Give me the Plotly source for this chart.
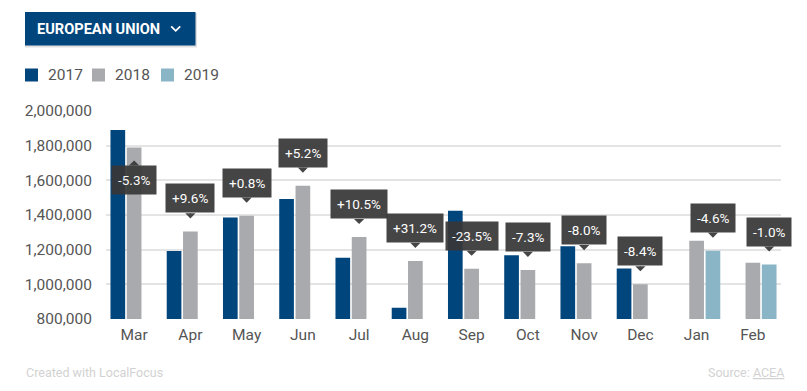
import plotly.graph_objects as go

# ---------------- data ----------------
months = ["Mar", "Apr", "May", "Jun", "Jul", "Aug", "Sep", "Oct", "Nov", "Dec", "Jan", "Feb"]
v2017 = [1890000, 1192000, 1386000, 1492000, 1153000, 865000, 1425000, 1168000, 1220000, 1092000, None, None]
v2018 = [1790000, 1305000, 1396000, 1569000, 1273000, 1135000, 1090000, 1083000, 1122000, 1000000, 1252000, 1125000]
v2019 = [None, None, None, None, None, None, None, None, None, None, 1194000, 1114000]
pct_labels = ["-5.3%", "+9.6%", "+0.8%", "+5.2%", "+10.5%", "+31.2%", "-23.5%", "-7.3%", "-8.0%", "-8.4%", "-4.6%", "-1.0%"]
series_names = ["2017", "2018", "2019"]
y_ticks = [800000, 1000000, 1200000, 1400000, 1600000, 1800000, 2000000]

# ---------------- style ----------------
W, H = 807, 391
ML, MR, MT, MB = 106, 26, 111, 72
PW, PH = W - ML - MR, H - MT - MB
colors = ["#00457c", "#a9aaae", "#8ab5c7"]
FONT = "Roboto, Arial, sans-serif"
BARGAP, GROUPGAP = 0.13, 0.1
YMIN, YMAX = 800000, 2000000


def px_x(px):
    return (px - ML) / PW


def px_y(py):
    return (H - MB - py) / PH


xs = list(range(len(months)))
fig = go.Figure()
for name, vals, col in zip(series_names, [v2017, v2018, v2019], colors):
    fig.add_trace(go.Bar(x=xs, y=vals, name=name, marker=dict(color=col, line=dict(width=0)),
                         showlegend=False, hoverinfo="skip"))

slot = (1 - BARGAP) / 3
annotations = []
shapes = []

# percentage tooltips on the latest-year bar of each month
box_px = 46  # arrow offset + box height in px
for i, lab in enumerate(pct_labels):
    if v2019[i] is not None:
        xv, yv = i + slot, v2019[i]
    else:
        xv, yv = i, v2018[i]
    flip = yv + box_px / PH * (YMAX - YMIN) > YMAX
    annotations.append(dict(
        x=xv, y=yv, xref="x", yref="y", text=lab, showarrow=True,
        arrowhead=1, arrowsize=1.7, arrowwidth=1, arrowcolor="#383838",
        standoff=13, ax=0, ay=18 if flip else -18,
        yanchor="top" if flip else "bottom", xanchor="center",
        bgcolor="#383838", borderpad=6, opacity=0.93,
        font=dict(family=FONT, size=13.5, color="white"),
    ))

# header button
shapes.append(dict(type="rect", xref="paper", yref="paper",
                   x0=px_x(25), x1=px_x(197), y0=px_y(47.5), y1=px_y(13),
                   fillcolor="rgba(0,0,0,0.12)", line=dict(width=0), layer="above"))
shapes.append(dict(type="rect", xref="paper", yref="paper",
                   x0=px_x(25), x1=px_x(195.5), y0=px_y(45.5), y1=px_y(12),
                   fillcolor="#00457c", line=dict(width=0), layer="above"))
shapes.append(dict(type="path", xref="paper", yref="paper",
                   path="M %f,%f L %f,%f L %f,%f" % (px_x(171.2), px_y(26.3), px_x(175.7), px_y(30.8),
                                                     px_x(180.2), px_y(26.3)),
                   line=dict(color="white", width=1.8), layer="above"))
annotations.append(dict(x=px_x(35), y=px_y(28.8), xref="paper", yref="paper", xanchor="left",
                        yanchor="middle", text="<b>EUROPEAN UNION</b>", showarrow=False,
                        font=dict(family=FONT, size=14.6, color="white")))

# legend
leg_sq_x = [25, 92, 161]
for name, col, sx in zip(series_names, colors, leg_sq_x):
    shapes.append(dict(type="rect", xref="paper", yref="paper",
                       x0=px_x(sx), x1=px_x(sx + 13), y0=px_y(81.5), y1=px_y(68.5),
                       fillcolor=col, line=dict(width=0), layer="above"))
    annotations.append(dict(x=px_x(sx + 21), y=px_y(75), xref="paper", yref="paper",
                            xanchor="left", yanchor="middle", text=name, showarrow=False,
                            font=dict(family=FONT, size=15.5, color="#555555")))

# footer
annotations.append(dict(x=px_x(24), y=px_y(372), xref="paper", yref="paper", xanchor="left",
                        yanchor="middle", text="Created with LocalFocus", showarrow=False,
                        font=dict(family=FONT, size=12.5, color="#d2d2d2")))
annotations.append(dict(x=px_x(786), y=px_y(372), xref="paper", yref="paper", xanchor="right",
                        yanchor="middle",
                        text='Source: <span style="text-decoration:underline">ACEA</span>',
                        showarrow=False, font=dict(family=FONT, size=12.5, color="#d2d2d2")))

fig.update_layout(
    width=W, height=H,
    margin=dict(l=ML, r=MR, t=MT, b=MB, pad=0),
    paper_bgcolor="white", plot_bgcolor="white",
    barmode="group", bargap=BARGAP, bargroupgap=GROUPGAP,
    font=dict(family=FONT, color="#555555"),
    annotations=annotations, shapes=shapes,
    xaxis=dict(tickmode="array", tickvals=xs, ticktext=months, range=[-0.5, len(months) - 0.5],
               showgrid=False, zeroline=False, showline=False, ticks="outside", ticklen=1,
               tickcolor="rgba(0,0,0,0)", tickfont=dict(family=FONT, size=15.5, color="#555555"),
               fixedrange=True),
    yaxis=dict(range=[YMIN, YMAX], tickmode="array", tickvals=y_ticks, tickformat=",",
               showgrid=True, gridcolor="#e4e4e4", gridwidth=1.5, zeroline=False, showline=False,
               ticks="outside", ticklen=10, tickcolor="rgba(0,0,0,0)",
               tickfont=dict(family=FONT, size=15.5, color="#555555"), fixedrange=True),
)

fig.write_html("out.html", config={"displayModeBar": False},
               post_script="document.body.style.margin='0';document.body.style.overflow='hidden';")
